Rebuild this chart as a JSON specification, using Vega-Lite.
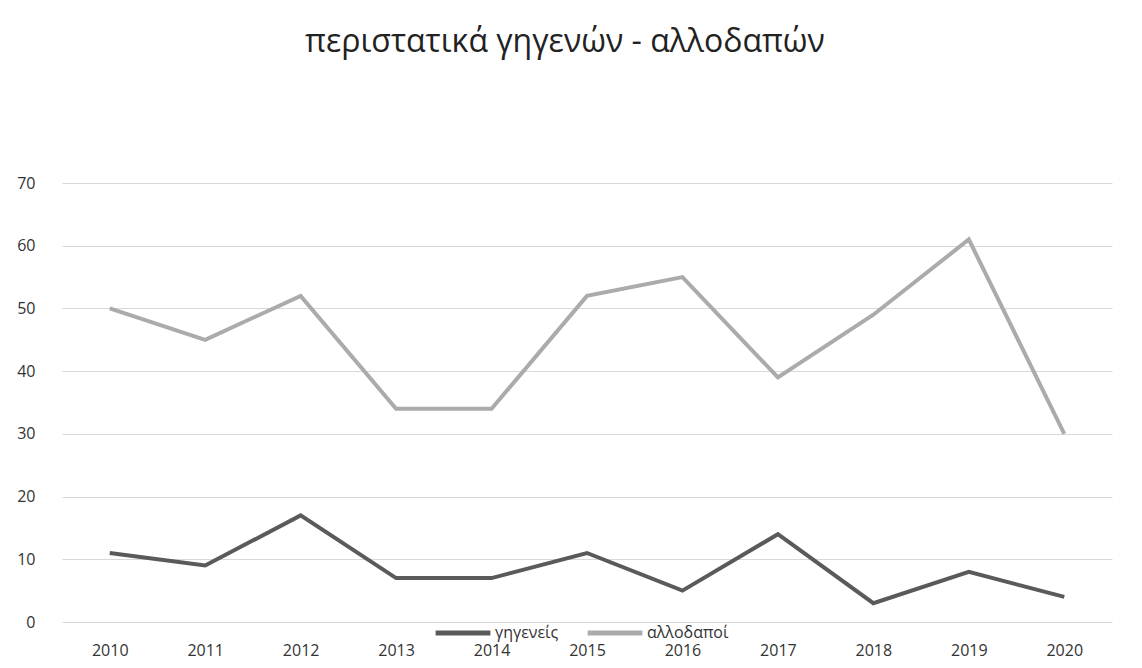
{
  "$schema": "https://vega.github.io/schema/vega-lite/v6.json",
  "autosize": {"type": "none"},
  "padding": {"left": 62, "top": 183, "right": 30, "bottom": 46},
  "width": 1050,
  "height": 439,
  "background": "white",
  "config": {"view": {"stroke": null}},
  "title": {
    "text": "περιστατικά γηγενών - αλλοδαπών",
    "font": "Open Sans",
    "fontSize": 32,
    "fontWeight": "normal",
    "color": "#222",
    "anchor": "middle",
    "offset": 116,
    "dx": -22
  },
  "data": {
    "values": [
      {"year": "2010", "series": "γηγενείς", "value": 11},
      {"year": "2011", "series": "γηγενείς", "value": 9},
      {"year": "2012", "series": "γηγενείς", "value": 17},
      {"year": "2013", "series": "γηγενείς", "value": 7},
      {"year": "2014", "series": "γηγενείς", "value": 7},
      {"year": "2015", "series": "γηγενείς", "value": 11},
      {"year": "2016", "series": "γηγενείς", "value": 5},
      {"year": "2017", "series": "γηγενείς", "value": 14},
      {"year": "2018", "series": "γηγενείς", "value": 3},
      {"year": "2019", "series": "γηγενείς", "value": 8},
      {"year": "2020", "series": "γηγενείς", "value": 4},
      {"year": "2010", "series": "αλλοδαποί", "value": 50},
      {"year": "2011", "series": "αλλοδαποί", "value": 45},
      {"year": "2012", "series": "αλλοδαποί", "value": 52},
      {"year": "2013", "series": "αλλοδαποί", "value": 34},
      {"year": "2014", "series": "αλλοδαποί", "value": 34},
      {"year": "2015", "series": "αλλοδαποί", "value": 52},
      {"year": "2016", "series": "αλλοδαποί", "value": 55},
      {"year": "2017", "series": "αλλοδαποί", "value": 39},
      {"year": "2018", "series": "αλλοδαποί", "value": 49},
      {"year": "2019", "series": "αλλοδαποί", "value": 61},
      {"year": "2020", "series": "αλλοδαποί", "value": 30}
    ]
  },
  "mark": {"type": "line", "strokeWidth": 4, "strokeJoin": "miter"},
  "encoding": {
    "x": {
      "field": "year",
      "type": "ordinal",
      "scale": {"type": "point", "padding": 0.5},
      "axis": {
        "title": null,
        "labelAngle": 0,
        "labelFont": "Open Sans",
        "labelFontSize": 16,
        "labelColor": "#333",
        "labelPadding": 20,
        "domain": false,
        "ticks": false,
        "grid": false
      }
    },
    "y": {
      "field": "value",
      "type": "quantitative",
      "scale": {"domain": [0, 70]},
      "axis": {
        "title": null,
        "values": [0, 10, 20, 30, 40, 50, 60, 70],
        "labelFont": "Open Sans",
        "labelFontSize": 16,
        "labelColor": "#333",
        "labelPadding": 27,
        "domain": false,
        "ticks": false,
        "grid": true,
        "gridColor": "#d9d9d9",
        "gridWidth": 1
      }
    },
    "color": {
      "field": "series",
      "type": "nominal",
      "scale": {"domain": ["γηγενείς", "αλλοδαποί"], "range": ["#5a5a5a", "#ababab"]},
      "legend": {
        "title": null,
        "orient": "none",
        "legendX": 371,
        "legendY": 420,
        "direction": "horizontal",
        "symbolType": "stroke",
        "symbolStrokeWidth": 5,
        "symbolSize": 3000,
        "labelFont": "Open Sans",
        "labelFontSize": 16,
        "labelColor": "#333",
        "columnPadding": 18,
        "labelOffset": 2
      }
    }
  }
}
